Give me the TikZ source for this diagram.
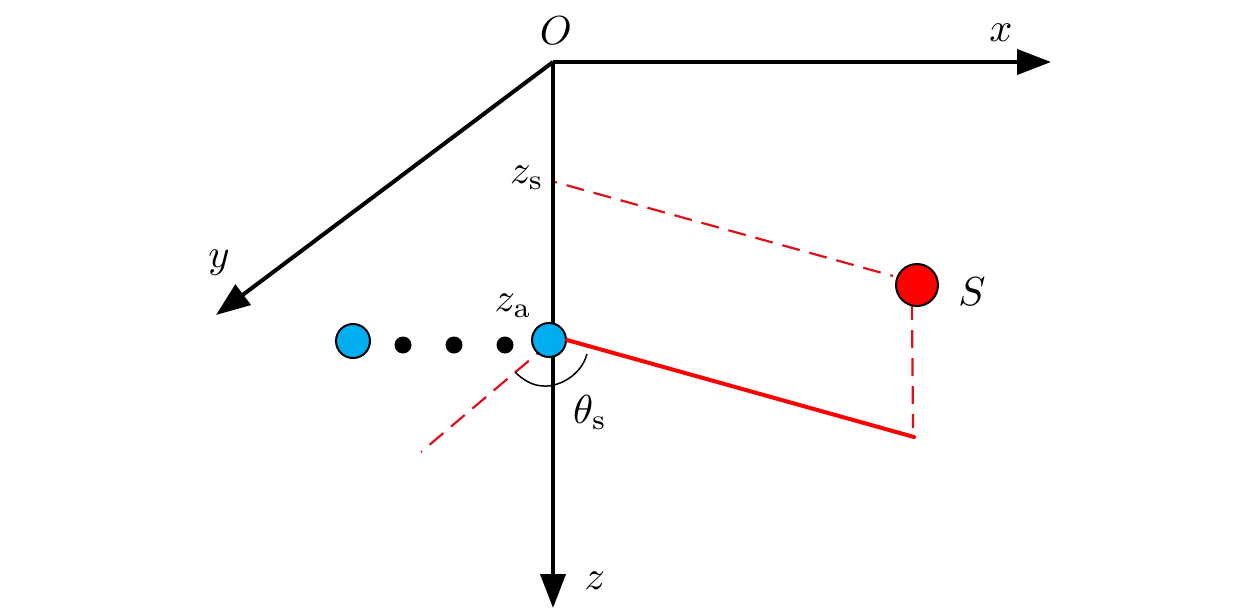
\documentclass[tikz,border=0pt]{standalone}
\usetikzlibrary{arrows.meta}
\definecolor{dotblue}{HTML}{00AEEF}
\definecolor{dashred}{HTML}{E0101A}
\tikzset{
  axis/.style={line width=4pt,black,-{Triangle[length=34pt,width=25pt]}},
  lbl/.style={inner sep=0pt,scale=4.05},
  blueball/.style={circle,draw=black,line width=2pt,fill=dotblue,minimum size=34pt,inner sep=0pt},
  redball/.style={circle,draw=black,line width=2pt,fill=red,minimum size=42pt,inner sep=0pt},
  blackdot/.style={circle,fill=black,minimum size=17pt,inner sep=0pt},
  reddash/.style={line width=2.2pt,dashred,dash pattern=on 18pt off 10pt},
}
\begin{document}
\begin{tikzpicture}[x=1pt,y=-1pt]
\useasboundingbox (0,0) rectangle (1260,614);
\fill[white] (0,0) rectangle (1260,614);
\coordinate (o) at (553,62);
\coordinate (xe) at (1051,62);
\coordinate (ze) at (553,608);
\coordinate (ye) at (216,315);
\coordinate (zs) at (555,182);
\coordinate (foot) at (914,437);
\coordinate (sdash) at (893,276);
\coordinate (sbot) at (912,306);
\coordinate (sfoot) at (913,428);
\coordinate (ad) at (538,353);
\coordinate (ae) at (421,452);
\coordinate (arcA) at (587,354);
\coordinate (arcB) at (515,372);
% axes
\draw[axis] (o) -- (xe);
\draw[axis] (o) -- (ze);
\draw[axis] (o) -- (ye);
% dashed lines
\draw[reddash,dash phase=16pt] (zs) -- (sdash);
\draw[reddash,dash phase=16pt] (ad) -- (ae);
\draw[reddash,dash phase=4pt] (sbot) -- (sfoot);
% nodes
\node[blueball] (a1) at (549,340) {};
\node[blueball] (a0) at (353,341) {};
\node[blackdot] (d1) at (403,345) {};
\node[blackdot] (d2) at (454,345) {};
\node[blackdot] (d3) at (505,345) {};
\node[redball] (s) at (917,285) {};
% solid red
\draw[line width=4pt,red,line cap=round] (a1.east) -- (foot);
% angle arc
\draw[line width=1.5pt] (arcA) .. controls (581,376) and (558,387) .. (544,386) .. controls (532,386) and (522,379) .. (arcB);
% labels
\node[lbl] (lO) at (556,31) {$O$};
\node[lbl] (lx) at (1001,33) {$x$};
\node[lbl] (ly) at (219,263) {$y$};
\node[lbl] (lz) at (595,581) {$z$};
\node[lbl] (lS) at (972,292) {$S$};
\node[lbl] (lzs) at (527,178) {$z_{\mathrm{s}}$};
\node[lbl] (lza) at (513,306) {$z_{\mathrm{a}}$};
\node[lbl] (lt) at (590,412) {$\theta_{\mathrm{s}}$};
\end{tikzpicture}
\end{document}
